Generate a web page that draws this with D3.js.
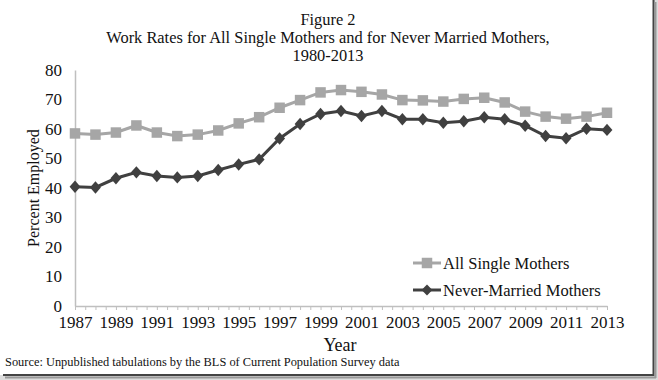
<!DOCTYPE html>
<html><head><meta charset="utf-8">
<script src="https://cdn.jsdelivr.net/npm/d3@7"></script>
<style>
html,body{margin:0;padding:0;background:#fff;}
svg{display:block;}
text{font-family:"Liberation Serif","Times New Roman",serif;fill:#111;}
</style></head>
<body>
<svg id="c" width="658" height="380"></svg>
<script>
const years = d3.range(1987, 2014);
const allSingle = [58.5,58.1,58.8,61.2,58.8,57.6,58.1,59.5,61.9,64.0,67.2,69.8,72.4,73.2,72.6,71.7,69.8,69.7,69.3,70.2,70.6,69.0,65.9,64.2,63.5,64.2,65.5];
const neverMarried = [40.4,40.2,43.3,45.3,44.1,43.6,44.1,46.1,48.0,49.7,56.8,61.7,65.1,66.1,64.4,66.1,63.3,63.3,62.1,62.6,64.0,63.3,61.1,57.6,56.9,60.1,59.7];
const yTicks = [0,10,20,30,40,50,60,70,80];
const xTickLabels = d3.range(1987, 2014, 2);
const titleLines = ["Figure 2","Work Rates for All Single Mothers and for Never Married Mothers,","1980-2013"];
const seriesNames = ["All Single Mothers","Never-Married Mothers"];

const svg = d3.select("#c");
const x = d3.scaleLinear().domain([1987, 2013]).range([75, 607]);
const y = d3.scaleLinear().domain([0, 80]).range([306, 70]);
const axisColor = "#bfbfbf";

// frame shadow
svg.append("rect").attr("x",653).attr("y",0).attr("width",5).attr("height",380).attr("fill","#ddd");
svg.append("rect").attr("x",0).attr("y",375).attr("width",658).attr("height",5).attr("fill","#ddd");
svg.append("line").attr("x1",653.5).attr("x2",653.5).attr("y1",0).attr("y2",376).attr("stroke","#444").attr("stroke-width",2);
svg.append("line").attr("x1",3).attr("x2",654).attr("y1",375).attr("y2",375).attr("stroke","#444").attr("stroke-width",2);
svg.append("line").attr("x1",655.5).attr("x2",655.5).attr("y1",2).attr("y2",378).attr("stroke","#999").attr("stroke-width",2);
svg.append("line").attr("x1",5).attr("x2",656).attr("y1",377.5).attr("y2",377.5).attr("stroke","#999").attr("stroke-width",2);

// title
const tY = [25, 43, 61];
titleLines.forEach((t,i)=>{
  svg.append("text").attr("x",328).attr("y",tY[i]).attr("text-anchor","middle")
    .attr("font-size",16.4).text(t);
});

// y axis
const yAxis = d3.axisLeft(y).tickValues(yTicks).tickSize(0).tickPadding(13);
const gy = svg.append("g").attr("transform","translate(75,0)").call(yAxis);
gy.select(".domain").attr("stroke",axisColor).attr("stroke-width",1.5);
gy.selectAll("text").attr("font-size",17).attr("font-family","Liberation Serif").attr("fill","#111");

// x axis
const halfTicks = d3.range(1987, 2013.01, 0.5);
const xAxis = d3.axisBottom(x).tickValues(halfTicks).tickSize(4).tickSizeOuter(0).tickFormat(d => xTickLabels.includes(d) ? String(d) : "").tickPadding(6);
const gx = svg.append("g").attr("transform","translate(0,306)").call(xAxis);
gx.select(".domain").attr("stroke",axisColor).attr("stroke-width",1.5);
gx.selectAll(".tick line").attr("stroke",axisColor).attr("stroke-width",1);
gx.selectAll("text").attr("font-size",17).attr("font-family","Liberation Serif").attr("fill","#111");

// axis titles
svg.append("text").attr("x",340).attr("y",351).attr("text-anchor","middle").attr("font-size",18).text("Year");
svg.append("text").attr("transform","translate(39,188) rotate(-90)").attr("text-anchor","middle").attr("font-size",16).text("Percent Employed");
svg.append("text").attr("x",5).attr("y",366).attr("font-size",12.4).text("Source: Unpublished tabulations by the BLS of Current Population Survey data");

// lines
const line = d3.line().x((d,i)=>x(years[i])).y(d=>y(d));
const grey = "#a6a6a6", dark = "#404040";
svg.append("path").attr("d",line(allSingle)).attr("fill","none").attr("stroke",grey).attr("stroke-width",3);
svg.append("path").attr("d",line(neverMarried)).attr("fill","none").attr("stroke",dark).attr("stroke-width",3);
const sq = d3.symbol().type(d3.symbolSquare).size(110);
const dm = d3.symbol().type(d3.symbolDiamond2).size(75);
svg.append("g").selectAll("path").data(allSingle).join("path")
  .attr("d",sq).attr("transform",(d,i)=>`translate(${x(years[i])},${y(d)})`).attr("fill",grey);
svg.append("g").selectAll("path").data(neverMarried).join("path")
  .attr("d",dm).attr("transform",(d,i)=>`translate(${x(years[i])},${y(d)}) scale(1,1.15)`).attr("fill",dark);

// legend
const leg = [{n:seriesNames[0],c:grey,s:sq,y:263},{n:seriesNames[1],c:dark,s:dm,y:290}];
leg.forEach(l=>{
  svg.append("line").attr("x1",413).attr("x2",441).attr("y1",l.y).attr("y2",l.y).attr("stroke",l.c).attr("stroke-width",3);
  svg.append("path").attr("d",l.s).attr("transform",`translate(427,${l.y})`).attr("fill",l.c);
  svg.append("text").attr("x",443).attr("y",l.y+6).attr("font-size",16.5).text(l.n);
});
</script>
</body></html>
